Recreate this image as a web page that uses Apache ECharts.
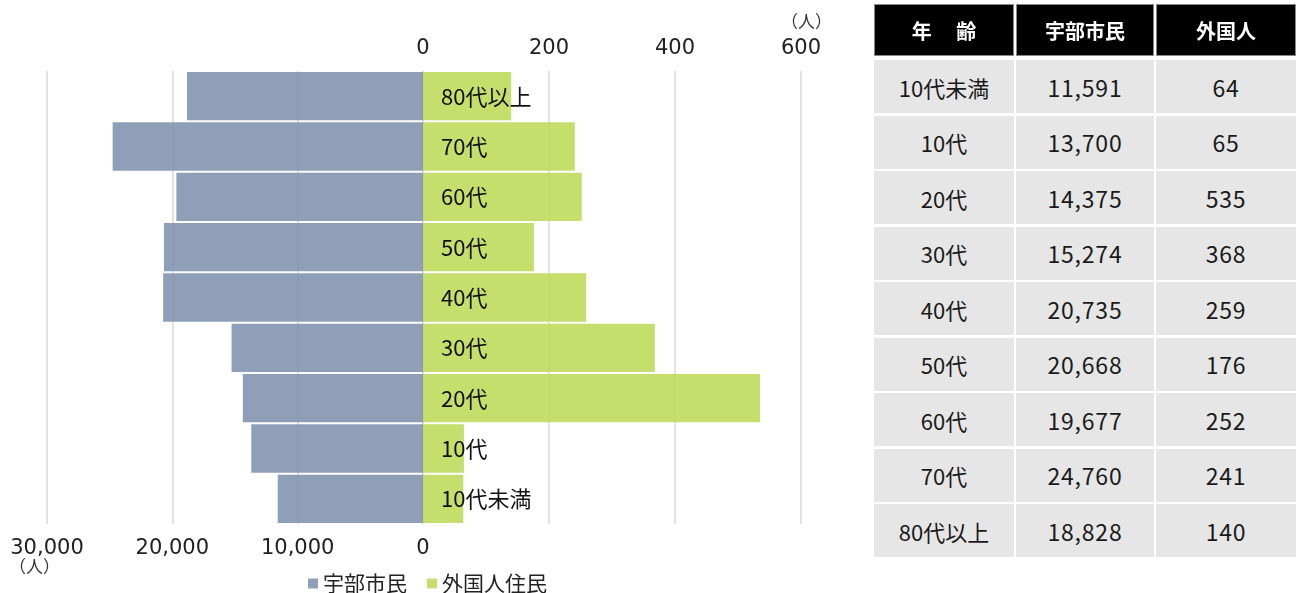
<!DOCTYPE html>
<html><head><meta charset="utf-8">
<script src="https://cdn.jsdelivr.net/npm/echarts@6/dist/echarts.min.js"></script>
<style>
html,body{margin:0;padding:0;background:#fff;}
#chart{position:absolute;left:0;top:0;width:1298px;height:593px;}
#tbl{position:absolute;left:0;top:0;width:1298px;height:593px;font-family:"Noto Sans CJK JP",sans-serif;}
.c{position:absolute;display:flex;align-items:center;justify-content:center;box-sizing:border-box;}
.h{background:#000;color:#fff;border:1px solid #888;font-size:20px;font-weight:bold;}
.d{background:#E6E6E6;color:#1a1a1a;font-size:22px;}
.n{font-size:23px;letter-spacing:0.8px;}
</style></head>
<body>
<div id="chart"></div>
<div id="tbl"></div>
<script>
const categories = ['10代未満','10代','20代','30代','40代','50代','60代','70代','80代以上'];
const ubeValues = [11591,13700,14375,15274,20735,20668,19677,24760,18828];
const foreignValues = [64,65,535,368,259,176,252,241,140];
const tableHeaders = ['年　 齢','宇部市民','外国人'];
const seriesNames = ['宇部市民','外国人住民'];
const ubeTicks = {min:0,max:30000,interval:10000};
const foreignTicks = {min:0,max:600,interval:200};

const font = '"Noto Sans CJK JP",sans-serif';
const numFont = '"DejaVu Sans",sans-serif';
const chart = echarts.init(document.getElementById('chart'));
const fmt = v => v.toLocaleString('en-US');
chart.setOption({
  textStyle:{fontFamily:font},
  animation:false,
  grid:[
    {left:47,top:71,width:376,height:453},
    {left:423,top:71,width:378,height:453}
  ],
  xAxis:[
    {gridIndex:0,type:'value',inverse:true,position:'bottom',min:ubeTicks.min,max:ubeTicks.max,interval:ubeTicks.interval,
     axisLine:{show:false},axisTick:{show:false},
     axisLabel:{fontSize:21,color:'#222',margin:14,formatter:v=>fmt(v),fontFamily:numFont},
     splitLine:{show:true,lineStyle:{color:'#d9d9d9',width:1.5}}},
    {gridIndex:1,type:'value',position:'top',min:foreignTicks.min,max:foreignTicks.max,interval:foreignTicks.interval,
     axisLine:{show:false},axisTick:{show:false},
     axisLabel:{fontSize:21,color:'#222',margin:12,fontFamily:numFont,showMinLabel:true},
     splitLine:{show:true,lineStyle:{color:'#d9d9d9',width:1.5}}}
  ],
  yAxis:[
    {gridIndex:0,type:'category',data:categories,show:false},
    {gridIndex:1,type:'category',data:categories,show:false}
  ],
  legend:{
    left:303,top:568,itemWidth:10,itemHeight:10,itemGap:20,icon:'rect',
    textStyle:{fontSize:21,color:'#222',fontFamily:font},
    data:[{name:seriesNames[0],itemStyle:{color:'#90A0B8',opacity:1}},{name:seriesNames[1],itemStyle:{color:'#C6DE6C',opacity:1}}]
  },
  graphic:[
    {type:'text',left:9,top:558,style:{text:'（人）',fontSize:17,fill:'#333',fontFamily:font}},
    {type:'text',left:781,top:13,style:{text:'（人）',fontSize:17,fill:'#333',fontFamily:font}}
  ],
  series:[
    {name:seriesNames[0],type:'bar',xAxisIndex:0,yAxisIndex:0,data:ubeValues,barCategoryGap:'4%',
     itemStyle:{color:'rgba(132,149,176,0.9)'}},
    {name:seriesNames[1],type:'bar',xAxisIndex:1,yAxisIndex:1,data:foreignValues,barCategoryGap:'4%',
     itemStyle:{color:'rgba(192,218,92,0.9)'},
     label:{show:true,position:'insideLeft',distance:18,formatter:'{b}',fontSize:22,color:'#111',fontFamily:font}}
  ]
});

// table
const tbl = document.getElementById('tbl');
const colX = [874,1016,1156];
const colW = [140,138,140];
function cell(cls,x,y,w,h,text){
  const d=document.createElement('div');d.className='c '+cls;
  d.style.left=x+'px';d.style.top=y+'px';d.style.width=w+'px';d.style.height=h+'px';
  d.textContent=text;tbl.appendChild(d);
}
tableHeaders.forEach((t,i)=>cell('h',colX[i],4,colW[i],52,t));
const pitch=55.5;
categories.forEach((c,i)=>{
  const y=60+i*pitch;
  cell('d',colX[0],y,colW[0],53,c);
  cell('d n',colX[1],y,colW[1],53,fmt(ubeValues[i]));
  cell('d n',colX[2],y,colW[2],53,fmt(foreignValues[i]));
});
</script>
</body></html>
